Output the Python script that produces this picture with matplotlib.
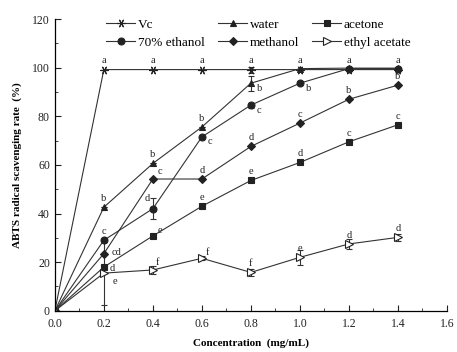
import matplotlib
matplotlib.use("Agg")
import matplotlib.pyplot as plt
from matplotlib.ticker import MultipleLocator
from matplotlib.lines import Line2D

plt.rcParams['font.family'] = ['Liberation Serif', 'DejaVu Serif']

conc = [0.0, 0.2, 0.4, 0.6, 0.8, 1.0, 1.2, 1.4]
vc = [0, 99.2, 99.2, 99.2, 99.2, 99.2, 99.2, 99.2]
water = [0, 42.6, 60.6, 75.6, 93.6, 99.6, 99.8, 99.8]
ethanol = [0, 29, 42, 71.5, 84.6, 93.6, 99.6, 99.6]
methanol = [0, 23.5, 54.2, 54.2, 67.6, 77.2, 87, 92.8]
acetone = [0, 18, 30.8, 43, 53.6, 61, 69.5, 76.5]
ethyl = [0, 15.5, 16.8, 21.6, 15.8, 22, 27.5, 30.2]

vc_err = [0, 0, 0, 0, 1.2, 0, 0, 0]
water_err = [0, 0, 0, 0, 3, 0, 0, 0]
ethanol_err = [0, 0, 4.4, 0, 1.0, 0, 0, 0]
methanol_err = [0, 0, 0, 0, 0, 0, 0, 0]
acetone_err = [0, 0, 0, 0, 0, 0, 0, 0]
ethyl_err = [0, 13, 1.5, 0.8, 1.5, 3, 2, 1.5]

vc_lab = ['', 'a', 'a', 'a', 'a', 'a', 'a', 'a']
water_lab = ['', 'b', 'b', 'b', 'b', '', '', '']
ethanol_lab = ['', 'c', 'd', 'c', 'c', 'b', '', '']
methanol_lab = ['', 'cd', 'c', 'd', 'd', 'c', 'b', 'b']
acetone_lab = ['', 'd', 'e', 'e', 'e', 'd', 'c', 'c']
ethyl_lab = ['', 'e', 'f', 'f', 'f', 'e', 'd', 'd']

fig = plt.figure(figsize=(4.57, 3.52), dpi=100)
ax = fig.add_axes([0.12, 0.117, 0.858, 0.829])

col = '#222222'
series = [
    ('Vc', vc, vc_err, (6, 2, 90), col, 6),
    ('water', water, water_err, '^', col, 5),
    ('acetone', acetone, acetone_err, 's', col, 4.5),
    ('70% ethanol', ethanol, ethanol_err, 'o', col, 5),
    ('methanol', methanol, methanol_err, 'D', col, 4),
    ('ethyl acetate', ethyl, ethyl_err, '>', 'white', 5.5),
]
handles = {}
for name, y, e, m, fc, ms in series:
    ax.errorbar(conc, y, yerr=e, color='#333333', lw=0.8, marker=m, ms=ms,
                mfc=fc, mec=col, mew=0.8, capsize=2.5, elinewidth=0.8)
    handles[name] = Line2D([], [], color='#333333', lw=0.8, marker=m, ms=ms,
                           mfc=fc, mec=col, mew=0.8)

# significance letters
def annotate(labels, vals, offs):
    for x, v, lab, off in zip(conc, vals, labels, offs):
        if lab:
            dx, dy, va = off
            ax.annotate(lab, (x, v), xytext=(dx, dy), textcoords='offset points',
                        ha='center', va=va, fontsize=7.5, color='#222222')

up = (0, 3, 'bottom')
annotate(vc_lab, vc, [up] * 8)
annotate(water_lab, water, [up, up, up, up, (6, -4, 'center'), up, up, up])
annotate(ethanol_lab, ethanol, [up, up, (-4, 4, 'bottom'), (6, -3, 'center'),
                                (6, -4, 'center'), (6, -4, 'center'), up, up])
annotate(methanol_lab, methanol, [up, (9, 1, 'center'), (5, 2, 'bottom'), up, up, up, up, up])
annotate(acetone_lab, acetone, [up, (6, -1, 'center'), (5, 1, 'bottom'), up, up, up, up, up])
annotate(ethyl_lab, ethyl, [up, (8, -6, 'center'), (3, 2, 'bottom'), (4, 1, 'bottom'),
                            up, up, up, up])

ax.set_xlim(0, 1.6)
ax.set_ylim(0, 120)
ax.xaxis.set_major_locator(MultipleLocator(0.2))
ax.xaxis.set_minor_locator(MultipleLocator(0.1))
ax.yaxis.set_major_locator(MultipleLocator(20))
ax.yaxis.set_minor_locator(MultipleLocator(10))
ax.xaxis.set_major_formatter(matplotlib.ticker.FormatStrFormatter('%.1f'))
ax.tick_params(which='both', direction='in', labelsize=8.5, colors='#222222')
ax.tick_params(which='major', length=4)
ax.tick_params(which='minor', length=2)
ax.tick_params(axis='x', pad=5)
for s in ['top', 'right']:
    ax.spines[s].set_visible(False)
for s in ['left', 'bottom']:
    ax.spines[s].set_linewidth(0.9)

ax.set_xlabel('Concentration  (mg/mL)', fontsize=8, fontweight='bold', labelpad=6)
ax.set_ylabel('ABTS radical scavenging rate  (%)', fontsize=8, fontweight='bold', labelpad=7)

order = ['Vc', '70% ethanol', 'water', 'methanol', 'acetone', 'ethyl acetate']
ax.legend([handles[n] for n in order], order, loc='upper left',
          bbox_to_anchor=(0.118, 1.02), ncol=3, frameon=False,
          fontsize=9.5, handlelength=2.2, handletextpad=0.2, columnspacing=1.0,
          labelspacing=0.45, borderaxespad=0)

fig.savefig('out.png', dpi=100)
